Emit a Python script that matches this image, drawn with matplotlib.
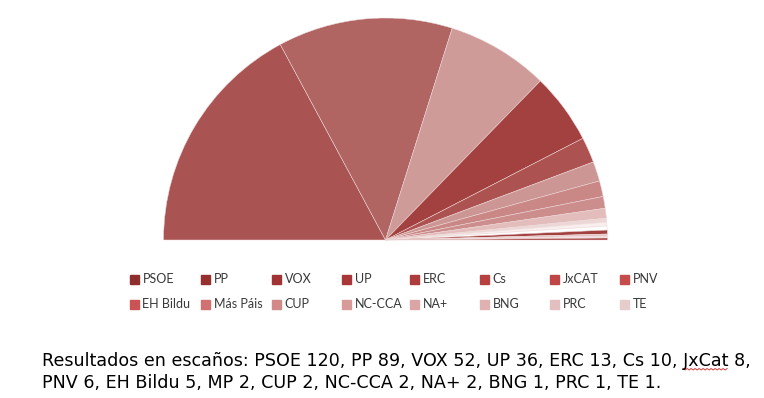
import numpy as np
import matplotlib
matplotlib.use("Agg")
import matplotlib.pyplot as plt
from matplotlib.patches import Rectangle

# Escaños por partido
partidos = ['PSOE', 'PP', 'VOX', 'UP', 'ERC', 'Cs', 'JxCAT', 'PNV',
            'EH Bildu', 'Más Páis', 'CUP', 'NC-CCA', 'NA+', 'BNG', 'PRC', 'TE']
escanos = [120, 89, 52, 36, 13, 10, 8, 6, 5, 2, 2, 2, 2, 1, 1, 1]

# colores de las porciones (como se ven en el gráfico)
colores_pie = ['#A95452', '#B06563', '#CF9B99', '#A2413F', '#AC5351', '#CC9694',
               '#C98786', '#CC8E8D', '#E2BDBC', '#EDD6D6', '#F8EEEE', '#FFFFFF',
               '#A2413F', '#E4C4C3', '#F2E2E2', '#9E3533']
# colores de la leyenda
colores_ley = ['#8E2D2D', '#982F2F', '#A03434', '#A83838', '#AE3C3C', '#B64141',
               '#BE4646', '#C64B4B', '#CB5353', '#D07070', '#D48989', '#D89999',
               '#DBA5A5', '#DFB1B1', '#E3BFBF', '#E7CCCC']

texto = ["Resultados en escaños: PSOE 120, PP 89, VOX 52, UP 36, ERC 13, Cs 10, JxCat 8,",
         "PNV 6, EH Bildu 5, MP 2, CUP 2, NC-CCA 2, NA+ 2, BNG 1, PRC 1, TE 1."]

W, H = 764, 398
fig = plt.figure(figsize=(W / 100, H / 100), dpi=100)

def fx(px):
    return px / W

def fy(py):
    return 1 - py / H

# semicirculo: centro (385.5, 240), radio 222 px
cx, cy, r = 385.5, 240, 222
ax = fig.add_axes([fx(cx - r), fy(cy), fx(2 * r), r / H])
total = sum(escanos)
wedges, _ = ax.pie(escanos + [total], startangle=180, counterclock=False,
                   colors=colores_pie + ['none'], radius=1,
                   wedgeprops=dict(edgecolor='#EFD9D9', linewidth=0.35))
wedges[-1].set_edgecolor('none')
ax.set_aspect('auto')
ax.set_xlim(-1, 1)
ax.set_ylim(0, 1)
ax.axis('off')

# leyenda en cuadrícula fija (8 columnas)
col_x = [130, 201, 272, 342, 410, 480, 550, 620]
fila_y = [279, 304]
for i, (nom, c) in enumerate(zip(partidos, colores_ley)):
    x = col_x[i % 8]
    y = fila_y[i // 8]
    fig.patches.append(Rectangle((fx(x), fy(y + 4.5)), fx(9), 9 / H, color=c,
                                 transform=fig.transFigure, figure=fig))
    fig.text(fx(x + 12.5), fy(y), nom, fontsize=9, family='Lato',
             color='#383838', va='center', ha='left')

# texto inferior
fs = 12.6
fig.text(fx(42), fy(365.5), texto[0], fontsize=fs, family='DejaVu Sans',
         color='black', va='baseline')
fig.text(fx(42), fy(388.5), texto[1], fontsize=fs, family='DejaVu Sans',
         color='black', va='baseline')

# subrayado ondulado del corrector bajo "JxCat"
rend = fig.canvas.get_renderer()
pre = texto[0].split('JxCat')[0]
tmp = fig.text(0, 0, pre, fontsize=fs, family='DejaVu Sans')
w_pre = tmp.get_window_extent(rend).width
tmp.set_text('JxCat')
w_jx = tmp.get_window_extent(rend).width
tmp.remove()
xs = np.arange(42 + w_pre, 42 + w_pre + w_jx, 2.0)
ys = 368.5 + np.where(np.arange(len(xs)) % 2 == 0, 0, 1.5)
fig.add_artist(plt.Line2D(fx(xs), fy(ys), color='#D04040', linewidth=0.7,
                          transform=fig.transFigure))

fig.savefig('out.png', dpi=100)
